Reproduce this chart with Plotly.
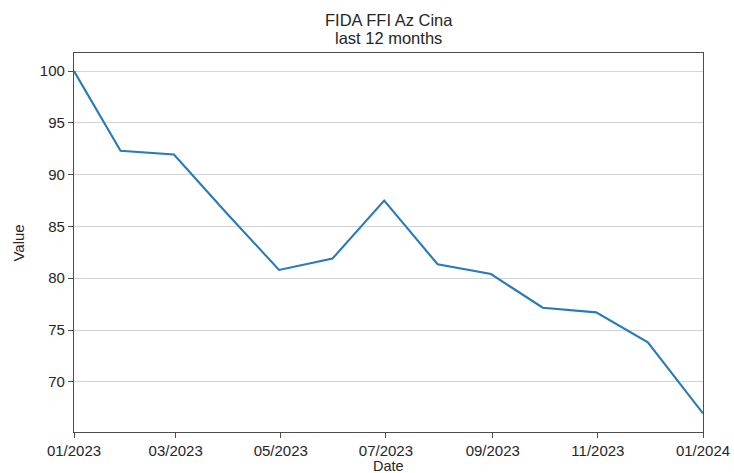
import plotly.graph_objects as go

dates = ["2023-01-01", "2023-01-28", "2023-02-28", "2023-03-31", "2023-04-30",
         "2023-05-31", "2023-06-30", "2023-07-31", "2023-08-31", "2023-09-30",
         "2023-10-31", "2023-11-30", "2024-01-01"]
values = [100.0, 92.3, 91.95, 86.2, 80.8, 81.9, 87.5, 81.35, 80.4, 77.15,
          76.7, 73.8, 66.95]

x_tick_vals = ["2023-01-01", "2023-03-01", "2023-05-01", "2023-07-01",
               "2023-09-01", "2023-11-01", "2024-01-01"]
x_tick_text = ["01/2023", "03/2023", "05/2023", "07/2023", "09/2023",
               "11/2023", "01/2024"]
y_tick_vals = [70, 75, 80, 85, 90, 95, 100]

title_lines = ["FIDA FFI Az Cina", "last 12 months"]
x_label = "Date"
y_label = "Value"

W, H = 734, 473
L, R, T, B = 73.5, 30.5, 53, 41
PW, PH = W - L - R, H - T - B


def px_x(x):
    return (x - L) / PW


def px_y(y):
    return (H - B - y) / PH


fig = go.Figure()
fig.add_trace(go.Scatter(x=dates, y=values, mode="lines",
                         line=dict(color="#2a7ab8", width=2.1),
                         showlegend=False, hoverinfo="skip"))

font = "Liberation Sans, Arial, sans-serif"
txt = "#262626"
axis_common = dict(showline=True, linecolor="#4d4d4d", linewidth=1.2,
                   mirror=True, ticks="outside", ticklen=5, tickwidth=1,
                   tickcolor="#4d4d4d", zeroline=False, automargin=False,
                   tickfont=dict(family=font, size=15, color=txt))

annotations = [
    dict(text=title_lines[0], x=0.5, y=px_y(20), xref="paper", yref="paper",
         xanchor="center", yanchor="middle", showarrow=False,
         font=dict(family=font, size=16.5, color=txt)),
    dict(text=title_lines[1], x=0.5, y=px_y(38.5), xref="paper", yref="paper",
         xanchor="center", yanchor="middle", showarrow=False,
         font=dict(family=font, size=16.5, color=txt)),
    dict(text=x_label, x=0.5, y=px_y(466.5), xref="paper", yref="paper",
         xanchor="center", yanchor="middle", showarrow=False,
         font=dict(family=font, size=14.5, color=txt)),
    dict(text=y_label, x=px_x(17), y=px_y(243), xref="paper", yref="paper",
         xanchor="center", yanchor="middle", showarrow=False, textangle=-90,
         font=dict(family=font, size=15, color=txt)),
]

fig.update_layout(
    width=W, height=H,
    margin=dict(l=L, r=R, t=T, b=B, autoexpand=False),
    paper_bgcolor="white", plot_bgcolor="white",
    font=dict(family=font, color=txt),
    annotations=annotations,
    xaxis=dict(type="date", range=["2023-01-01", "2024-01-01"],
               tickvals=x_tick_vals, ticktext=x_tick_text, showgrid=False,
               ticklabelstandoff=0, **axis_common),
    yaxis=dict(range=[65.15, 101.75], tickvals=y_tick_vals, showgrid=True,
               gridcolor="#d4d4d4", gridwidth=1, **axis_common),
)

fig.write_html(
    "out.html",
    config={"displayModeBar": False},
    post_script="document.body.style.margin='0';document.body.style.padding='0';",
)
